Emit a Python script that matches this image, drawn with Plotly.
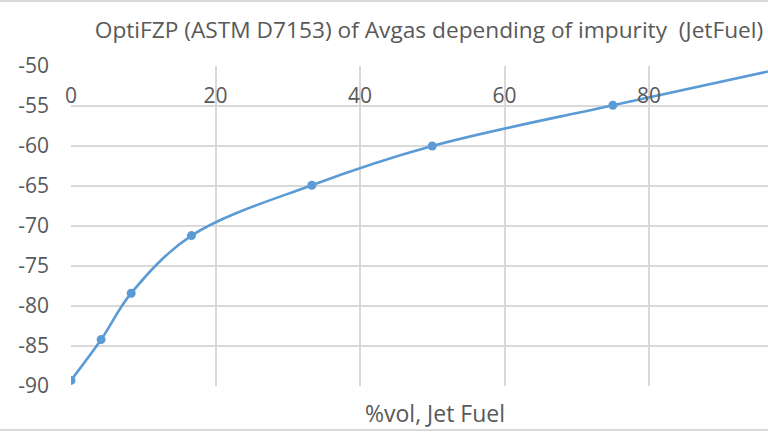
import plotly.graph_objects as go

# Data
x_vol = [0, 4.17, 8.33, 16.67, 33.33, 50, 75, 100]
y_fzp = [-89.3, -84.2, -78.4, -71.2, -64.9, -60.0, -54.9, -50.0]
x_ticks = [0, 20, 40, 60, 80, 100]
y_ticks = [-50, -55, -60, -65, -70, -75, -80, -85, -90]

title_text = "OptiFZP (ASTM D7153) of Avgas depending of impurity  (JetFuel)"
x_title = "%vol, Jet Fuel"

W, H = 768, 432
PL, PR, PT, PB = 71, 768, 66, 386   # plot area in pixels

text_col = "#595959"
grid_col = "#D9D9D9"
font_fam = "Open Sans, Noto Sans, sans-serif"


def px_x(p):
    return p / W


def px_y(p):
    return 1 - p / H


fig = go.Figure()
fig.add_trace(go.Scatter(
    x=x_vol, y=y_fzp, mode="lines+markers",
    line=dict(color="#5B9BD5", width=2.6, shape="spline", smoothing=1.0),
    marker=dict(color="#5B9BD5", size=9, symbol="circle"),
    showlegend=False,
))

fig.update_layout(
    width=W, height=H,
    margin=dict(l=0, r=0, t=0, b=0, pad=0, autoexpand=False),
    paper_bgcolor="white", plot_bgcolor="white",
    font=dict(family=font_fam, color=text_col, size=21),
    title=dict(text=title_text, x=px_x(429), xanchor="center",
               y=px_y(30), yanchor="middle", automargin=False,
               font=dict(size=22.7, color=text_col, family=font_fam)),
    xaxis=dict(domain=[px_x(PL), px_x(PR)], automargin=False,
               range=[0, (PR - PL) / 7.225], tickvals=x_ticks,
               anchor="free", position=px_y(81), side="bottom",
               showgrid=True, gridcolor=grid_col, gridwidth=1.5,
               zeroline=False, showline=False, ticks="",
               tickfont=dict(size=21, color=text_col)),
    yaxis=dict(domain=[px_y(PB), px_y(PT)], automargin=False,
               range=[-90, -50], tickvals=y_ticks,
               ticktext=[str(v) for v in y_ticks],
               showgrid=True, gridcolor=grid_col, gridwidth=1.5,
               zeroline=False, showline=False, ticks="",
               ticklabelstandoff=21,
               tickfont=dict(size=21, color=text_col)),
)

# x-axis title placed under the plot (axis labels sit at the top)
fig.add_annotation(text=x_title, xref="paper", yref="paper",
                   x=px_x(435), y=px_y(413),
                   xanchor="center", yanchor="middle", showarrow=False,
                   font=dict(size=23, color=text_col, family=font_fam))

# chart-area border lines (top and bottom)
for py in (1.0, 430.0):
    fig.add_shape(type="line", xref="paper", yref="paper",
                  x0=0, x1=1, y0=px_y(py), y1=px_y(py),
                  line=dict(color=grid_col, width=2))

fig.write_html("out.html")
